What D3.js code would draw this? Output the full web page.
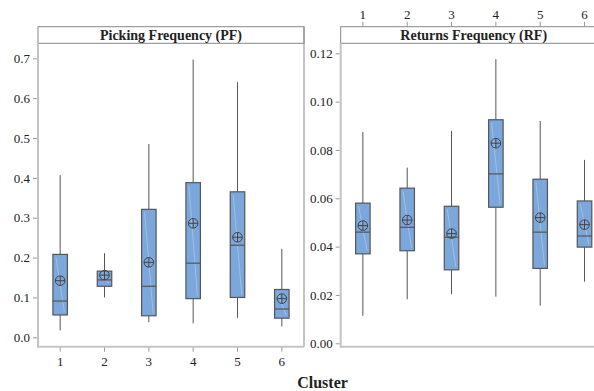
<!DOCTYPE html>
<html>
<head>
<meta charset="utf-8">
<script src="https://cdn.jsdelivr.net/npm/d3@7"></script>
<style>
  body { margin: 0; background: #fff; }
  text { font-family: "Liberation Serif", "Times New Roman", serif; fill: #222; }
</style>
</head>
<body>
<div id="chart"></div>
<script>
// cluster ids
const clusters = [1, 2, 3, 4, 5, 6];

// Picking Frequency (PF)
const pfLow    = [0.017, 0.100, 0.038, 0.035, 0.049, 0.027];
const pfQ1     = [0.056, 0.128, 0.054, 0.097, 0.100, 0.048];
const pfMedian = [0.091, 0.144, 0.128, 0.186, 0.231, 0.071];
const pfQ3     = [0.208, 0.166, 0.321, 0.388, 0.365, 0.120];
const pfHigh   = [0.407, 0.211, 0.485, 0.697, 0.640, 0.222];
const pfMean   = [0.142, 0.156, 0.188, 0.286, 0.251, 0.097];
const pfTicks  = [0, 0.1, 0.2, 0.3, 0.4, 0.5, 0.6, 0.7];

// Returns Frequency (RF)
const rfLow    = [0.0114, 0.0182, 0.0203, 0.0193, 0.0156, 0.0255];
const rfQ1     = [0.0370, 0.0383, 0.0304, 0.0563, 0.0310, 0.0398];
const rfMedian = [0.0460, 0.0480, 0.0439, 0.0701, 0.0460, 0.0444];
const rfQ3     = [0.0580, 0.0642, 0.0567, 0.0925, 0.0679, 0.0589];
const rfHigh   = [0.0874, 0.0727, 0.0879, 0.1176, 0.0920, 0.0759];
const rfMean   = [0.0487, 0.0510, 0.0454, 0.0828, 0.0520, 0.0491];
const rfTicks  = [0, 0.02, 0.04, 0.06, 0.08, 0.10, 0.12];

const width = 594, height = 391;
const svg = d3.select('#chart').append('svg')
  .attr('width', width).attr('height', height);

const panelW = 266;
const frameTop = 26.7, stripBottom = 43.3, frameBottom = 346.7;
const boxW = 14.5;
const boxFill = '#7ba7db', boxStroke = '#555';

function panel(opts) {
  const x0 = opts.x0;
  const g = svg.append('g');

  const x = d3.scaleBand().domain(clusters).range([x0, x0 + panelW]).padding(0);
  const y = d3.scaleLinear().domain(opts.yDomain).range(opts.yRange);

  // strip header
  g.append('rect')
    .attr('x', x0).attr('y', frameTop)
    .attr('width', panelW).attr('height', stripBottom - frameTop)
    .attr('fill', '#fff').attr('stroke', '#888').attr('stroke-width', 1);
  g.append('text')
    .attr('x', x0 + panelW / 2).attr('y', frameTop + 13)
    .attr('text-anchor', 'middle')
    .style('font-weight', 'bold').style('font-size', '14px')
    .text(opts.title);

  // frame lines
  g.append('line')  // right border
    .attr('x1', x0 + panelW).attr('x2', x0 + panelW)
    .attr('y1', frameTop).attr('y2', frameBottom)
    .attr('stroke', '#888');
  g.append('line')  // left axis line
    .attr('x1', x0).attr('x2', x0)
    .attr('y1', stripBottom).attr('y2', frameBottom + 1)
    .attr('stroke', '#c4c4c4').attr('stroke-width', 2);
  g.append('line')  // bottom line
    .attr('x1', x0).attr('x2', x0 + panelW)
    .attr('y1', frameBottom).attr('y2', frameBottom)
    .attr('stroke', '#c4c4c4').attr('stroke-width', 2);

  // y axis
  const yAxis = g.append('g')
    .attr('transform', `translate(${x0 - 1},0)`)
    .call(d3.axisLeft(y).tickValues(opts.ticks).tickFormat(d3.format(opts.fmt)).tickSize(4).tickPadding(3));
  yAxis.select('.domain').remove();
  yAxis.selectAll('line').attr('stroke', '#999');
  yAxis.selectAll('text').style('font-size', '13px')
    .style('font-family', '"Liberation Serif", serif').attr('fill', '#222');

  // x axis (bottom or top)
  if (opts.xPos === 'bottom') {
    const xa = g.append('g')
      .attr('transform', `translate(0,${frameBottom + 1})`)
      .call(d3.axisBottom(x).tickSize(4).tickPadding(5));
    xa.select('.domain').remove();
    xa.selectAll('line').attr('stroke', '#999');
    xa.selectAll('text').style('font-size', '13px')
      .style('font-family', '"Liberation Serif", serif').attr('fill', '#222');
  } else {
    const xa = g.append('g')
      .attr('transform', `translate(0,${frameTop})`)
      .call(d3.axisTop(x).tickSize(5).tickPadding(3));
    xa.select('.domain').remove();
    xa.selectAll('line').attr('stroke', '#999');
    xa.selectAll('text').style('font-size', '13px')
      .style('font-family', '"Liberation Serif", serif').attr('fill', '#222');
  }

  const cx = d => x(d) + x.bandwidth() / 2;
  const boxes = g.selectAll('.box').data(clusters).enter().append('g').attr('class', 'box');

  // whiskers
  boxes.append('line')
    .attr('x1', cx).attr('x2', cx)
    .attr('y1', (d, i) => y(opts.high[i])).attr('y2', (d, i) => y(opts.q3[i]))
    .attr('stroke', boxStroke);
  boxes.append('line')
    .attr('x1', cx).attr('x2', cx)
    .attr('y1', (d, i) => y(opts.q1[i])).attr('y2', (d, i) => y(opts.low[i]))
    .attr('stroke', boxStroke);

  // box
  boxes.append('rect')
    .attr('x', d => cx(d) - boxW / 2)
    .attr('y', (d, i) => y(opts.q3[i]))
    .attr('width', boxW)
    .attr('height', (d, i) => y(opts.q1[i]) - y(opts.q3[i]))
    .attr('fill', boxFill).attr('stroke', boxStroke).attr('stroke-width', 1.2);

  // faint highlight streak inside box
  boxes.append('line')
    .attr('x1', d => cx(d) - boxW / 2 + 3).attr('x2', d => cx(d) + boxW / 2 - 3)
    .attr('y1', (d, i) => y(opts.q3[i]) + 3).attr('y2', (d, i) => y(opts.q1[i]) - 3)
    .attr('stroke', '#fff').attr('stroke-opacity', 0.35).attr('stroke-width', 0.8);

  // median
  boxes.append('line')
    .attr('x1', d => cx(d) - boxW / 2).attr('x2', d => cx(d) + boxW / 2)
    .attr('y1', (d, i) => y(opts.median[i])).attr('y2', (d, i) => y(opts.median[i]))
    .attr('stroke', boxStroke).attr('stroke-width', 1.2);

  // mean symbol (circle with cross)
  const r = 4.8;
  const mean = boxes.append('g')
    .attr('transform', (d, i) => `translate(${cx(d)},${y(opts.mean[i])})`);
  mean.append('circle').attr('r', r).attr('fill', 'none').attr('stroke', '#444').attr('stroke-width', 1);
  mean.append('line').attr('x1', -r).attr('x2', r).attr('stroke', '#444');
  mean.append('line').attr('y1', -r).attr('y2', r).attr('stroke', '#444');
}

panel({
  x0: 38, title: 'Picking Frequency (PF)',
  yDomain: [0, 0.7], yRange: [337.3, 58.3], ticks: pfTicks, fmt: '.1f',
  low: pfLow, q1: pfQ1, median: pfMedian, q3: pfQ3, high: pfHigh, mean: pfMean,
  xPos: 'bottom'
});

panel({
  x0: 340.7, title: 'Returns Frequency (RF)',
  yDomain: [0, 0.12], yRange: [343.3, 53.3], ticks: rfTicks, fmt: '.2f',
  low: rfLow, q1: rfQ1, median: rfMedian, q3: rfQ3, high: rfHigh, mean: rfMean,
  xPos: 'top'
});

svg.append('text')
  .attr('x', 322.5).attr('y', 388)
  .attr('text-anchor', 'middle')
  .style('font-weight', 'bold').style('font-size', '16px')
  .text('Cluster');
</script>
</body>
</html>
